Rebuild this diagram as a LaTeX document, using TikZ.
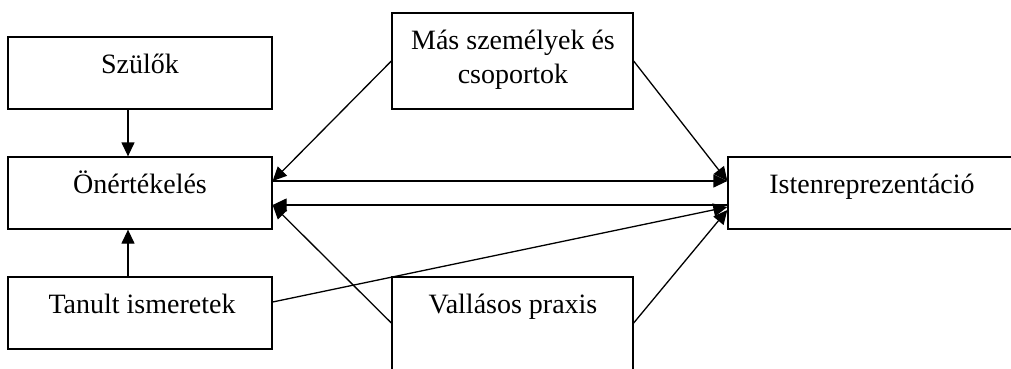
\documentclass[tikz,border=0pt]{standalone}
\usepackage{fontspec}
\setmainfont{Liberation Serif}
\usetikzlibrary{arrows.meta}
\tikzset{
  boxnode/.style={draw=black, line width=1.3pt, inner sep=0pt, fill=none},
  txt/.style={inner sep=0pt, anchor=base, font=\fontsize{28}{33}\selectfont},
  conn/.style={line width=1.3pt, -{Triangle[length=14pt,width=13pt]}}
}
\begin{document}
\begin{tikzpicture}[x=1pt,y=-1pt]
\useasboundingbox (0,0) rectangle (1011,369);
\clip (0,0) rectangle (1011,369);
\fill[white] (0,0) rectangle (1011,369);
% boxes
\node[boxnode, minimum width=264pt, minimum height=72pt] (szulok) at (140,73) {};
\node[boxnode, minimum width=264pt, minimum height=72pt] (onert) at (140,193) {};
\node[boxnode, minimum width=264pt, minimum height=72pt] (tanult) at (140,313) {};
\node[boxnode, minimum width=241pt, minimum height=96pt] (mas) at (512.5,61) {};
\node[boxnode, minimum width=241pt, minimum height=122pt] (vallas) at (512.5,338) {};
\node[boxnode, minimum width=300pt, minimum height=72pt] (isten) at (878,193) {};
% texts
\node[txt] (tszulok) at (140,74) {Szülők};
\node[txt] (tonert) at (140,193) {Önértékelés};
\node[txt] (ttanult) at (142,313) {Tanult ismeretek};
\node[txt] (tmas1) at (513,50) {Más személyek és};
\node[txt] (tmas2) at (513,83) {csoportok};
\node[txt] (tvallas) at (513,313) {Vallásos praxis};
\node[txt] (tisten) at (872,193) {Istenreprezentáció};
% connectors
\draw[conn] (szulok.south -| 128,0) -- (onert.north -| 128,0);
\draw[conn] (tanult.north -| 128,0) -- (onert.south -| 128,0);
\draw[conn] (mas.west) -- ([yshift=12pt]onert.east);
\draw[conn] (mas.east) -- ([yshift=12pt]isten.west);
\draw[conn] ([yshift=12pt]onert.east) -- ([yshift=12pt]isten.west);
\draw[conn] ([yshift=-12pt]isten.west) -- ([yshift=-12pt]onert.east);
\draw[conn] ([yshift=11pt]tanult.east) -- ([yshift=-14pt]isten.west);
\draw[conn] ([yshift=15pt]vallas.west) -- ([yshift=-12pt]onert.east);
\draw[conn] ([yshift=15pt]vallas.east) -- ([yshift=-17pt]isten.west);
\end{tikzpicture}
\end{document}
